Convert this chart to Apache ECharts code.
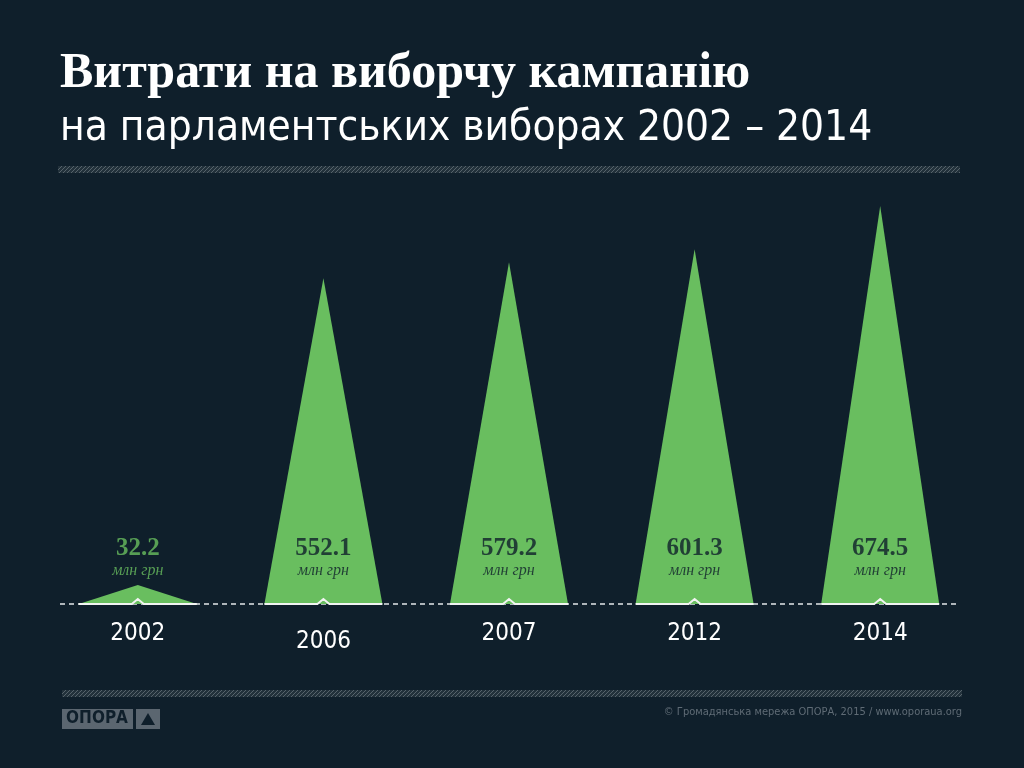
<!DOCTYPE html>
<html><head><meta charset="utf-8">
<script src="https://cdn.jsdelivr.net/npm/echarts@6/dist/echarts.min.js"></script>
<style>html,body{margin:0;padding:0;background:#0f1f2b;}#c{width:1024px;height:768px;}</style>
</head><body><div id="c"></div>
<script>
const years = ['2002','2006','2007','2012','2014'];
const spending = [32.2, 552.1, 579.2, 601.3, 674.5];
const unitLabel = 'млн грн';
const titleMain = 'Витрати на виборчу кампанію';
const titleSub = 'на парламентських виборах 2002 – 2014';
const credit = '© Громадянська мережа ОПОРА, 2015 / www.oporaua.org';

const BG = '#0f1f2b', GREEN = '#69be5f';
const NARROW = 'Liberation Sans Narrow, DejaVu Sans Condensed, Liberation Sans';

function hatch(){
  const c = document.createElement('canvas'); c.width = 4; c.height = 4;
  const g = c.getContext('2d');
  g.fillStyle = '#22313b'; g.fillRect(0,0,4,4);
  g.strokeStyle = '#56636b'; g.lineWidth = 1;
  g.beginPath(); g.moveTo(0,4); g.lineTo(4,0); g.moveTo(-1,1); g.lineTo(1,-1); g.moveTo(3,5); g.lineTo(5,3); g.stroke();
  return c;
}
const pat = {image: hatch(), repeat: 'repeat'};

const chart = echarts.init(document.getElementById('c'));
chart.setOption({
  backgroundColor: BG,
  animation: false,
  title: [
    {text: titleMain, left: 55, top: 44, textStyle: {color: '#fff', fontFamily: 'Liberation Serif', fontWeight: 'bold', fontSize: 50}},
    {text: titleSub, left: 55, top: 103, textStyle: {color: '#fff', fontFamily: NARROW, fontWeight: 'normal', fontSize: 42}}
  ],
  grid: {left: 45, width: 928, top: 191, height: 413},
  xAxis: {
    type: 'category', data: years, boundaryGap: true,
    axisLine: {show: false}, axisTick: {show: false}, splitLine: {show: false},
    axisLabel: {
      color: '#fff', fontSize: 24, fontFamily: NARROW, margin: 18,
      formatter: v => v === '2006' ? '{low|' + v + '}' : v,
      rich: {low: {color: '#fff', fontSize: 24, fontFamily: NARROW, padding: [8,0,0,0]}}
    }
  },
  yAxis: {type: 'value', min: 0, max: 700, show: false, splitLine: {show: false}},
  graphic: [
    {type: 'rect', shape: {x: 58, y: 166, width: 902, height: 7}, style: {fill: pat}, silent: true},
    {type: 'rect', shape: {x: 62, y: 690, width: 900, height: 7}, style: {fill: pat}, silent: true},
    {type: 'line', shape: {x1: 60, y1: 604, x2: 960, y2: 604}, style: {stroke: '#e4e7ea', lineWidth: 1.5, lineDash: [5, 4]}, z: 1, silent: true},
    {type: 'rect', shape: {x: 62, y: 709, width: 71, height: 20}, style: {fill: '#5b6670'}, silent: true},
    {type: 'text', x: 97, y: 719, style: {text: 'ОПОРА', fill: BG, font: 'bold 17px "DejaVu Sans Condensed", "Liberation Sans Narrow", "Liberation Sans"', align: 'center', verticalAlign: 'middle'}, silent: true},
    {type: 'rect', shape: {x: 136, y: 709, width: 24, height: 20}, style: {fill: '#5b6670'}, silent: true},
    {type: 'polygon', shape: {points: [[141,725],[148,713],[155,725]]}, style: {fill: BG}, silent: true},
    {type: 'text', right: 62, y: 707, style: {text: credit, fill: '#5f6b75', font: '11px "Liberation Sans Narrow", "DejaVu Sans Condensed", "Liberation Sans"', align: 'right'}, silent: true}
  ],
  series: [
    {
      type: 'custom', z: 3,
      data: spending.map((v, i) => [i, v]),
      renderItem: function(params, api){
        const b = api.coord([api.value(0), 0]);
        const t = api.coord([api.value(0), api.value(1)]);
        const hw = 59;
        return {type: 'group', children: [
          {type: 'polygon', shape: {points: [[b[0]-hw, b[1]], [t[0], t[1]], [b[0]+hw, b[1]]]}, style: {fill: GREEN}},
          {type: 'polyline', shape: {points: [[b[0]-hw, b[1]], [b[0]-6, b[1]], [b[0], b[1]-5], [b[0]+6, b[1]], [b[0]+hw, b[1]]]}, style: {stroke: '#f2f4f2', lineWidth: 2, fill: null}}
        ]};
      }
    },
    {
      type: 'scatter', z: 5, symbolSize: 0,
      data: spending.map((v, i) => [i, 0, v]),
      label: {
        show: true, position: 'top', distance: 23,
        formatter: p => {
          const s = p.value[2] < 100 ? 'g' : 'd';
          return '{' + s + 'v|' + p.value[2].toFixed(1) + '}\n{' + s + 'u|' + unitLabel + '}';
        },
        rich: {
          dv: {color: '#0f1f2b', fontFamily: 'Liberation Serif', fontWeight: 'bold', fontSize: 25, lineHeight: 24, align: 'center'},
          du: {color: '#0f1f2b', fontFamily: 'Liberation Serif', fontStyle: 'italic', fontSize: 16, lineHeight: 20, align: 'center'},
          gv: {color: GREEN, fontFamily: 'Liberation Serif', fontWeight: 'bold', fontSize: 25, lineHeight: 24, align: 'center'},
          gu: {color: GREEN, fontFamily: 'Liberation Serif', fontStyle: 'italic', fontSize: 16, lineHeight: 20, align: 'center'}
        }
      }
    }
  ]
});
</script></body></html>
